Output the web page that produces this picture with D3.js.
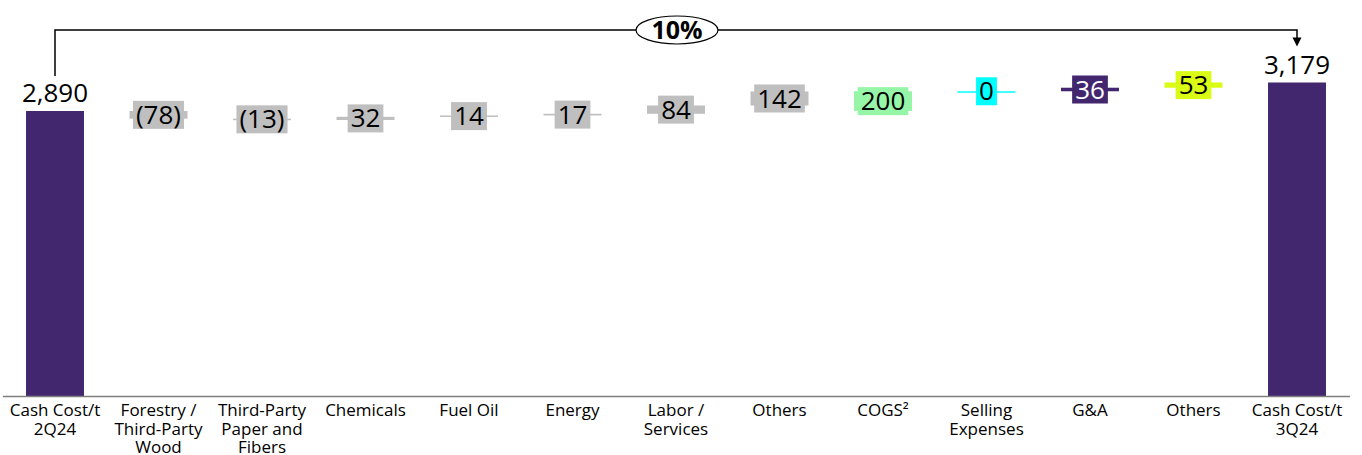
<!DOCTYPE html>
<html>
<head>
<meta charset="utf-8">
<script src="https://cdn.jsdelivr.net/npm/d3@7"></script>
<style>
  html, body { margin: 0; padding: 0; background: #ffffff; }
  svg { display: block; font-family: "Open Sans", "Noto Sans", sans-serif; }
</style>
</head>
<body>
<svg id="chart" width="1362" height="455"></svg>
<script>
// Cash cost per tonne bridge, 2Q24 -> 3Q24 (R$/t)
const categories = [
  "Cash Cost/t\n2Q24",
  "Forestry /\nThird-Party\nWood",
  "Third-Party\nPaper and\nFibers",
  "Chemicals",
  "Fuel Oil",
  "Energy",
  "Labor /\nServices",
  "Others",
  "COGS²",
  "Selling\nExpenses",
  "G&A",
  "Others",
  "Cash Cost/t\n3Q24"
];
// total bars at both ends, deltas in between
const values = [2890, -78, -13, 32, 14, 17, 84, 142, 200, 0, 36, 53, 3179];
const kinds  = ["total", "delta", "delta", "delta", "delta", "delta", "delta", "delta", "group", "delta", "delta", "delta", "total"];
const fills  = ["#42276f", "#bfbfbf", "#bfbfbf", "#bfbfbf", "#bfbfbf", "#bfbfbf", "#bfbfbf", "#bfbfbf", "#97f5a7", "#00ffff", "#42276f", "#dafb16", "#42276f"];
const textFills = ["#000", "#000", "#000", "#000", "#000", "#000", "#000", "#000", "#000", "#000", "#ffffff", "#000", "#000"];
const changeLabel = "10%";

// running start/end of every bar: the cost items run from the opening total,
// the COGS bar summarises them, and the items after it continue from its end
const segments = [];
let run = 0;
let opening = 0;
values.forEach((v, i) => {
  let y0, y1;
  if (kinds[i] === "total") {
    y0 = 0; y1 = v; run = v; opening = v;
  } else if (kinds[i] === "group") {
    y0 = opening; y1 = opening + v; run = y1;
  } else {
    y0 = run; y1 = run + v; run = y1;
  }
  segments.push({ cat: i, value: v, kind: kinds[i], y0, y1 });
});

const svg = d3.select("#chart");
const baseY = 396;

const x = d3.scaleBand()
  .domain(d3.range(categories.length))
  .range([3.25, 1348.75])
  .paddingInner(0.44)
  .paddingOuter(0.22);

const y = d3.scaleLinear()
  .domain([0, 2890])
  .range([baseY, 111]);

const fmt = v => {
  if (v < 0) return "(" + d3.format(",")(-v) + ")";
  return d3.format(",")(v);
};

// bars
svg.append("g").selectAll("rect")
  .data(segments)
  .join("rect")
  .attr("x", d => x(d.cat))
  .attr("width", x.bandwidth())
  .attr("y", d => y(Math.max(d.y0, d.y1)))
  .attr("height", d => Math.max(1.5, Math.abs(y(d.y0) - y(d.y1))))
  .attr("fill", d => fills[d.cat]);

// baseline
svg.append("line")
  .attr("x1", 3).attr("x2", 1350)
  .attr("y1", baseY + 0.5).attr("y2", baseY + 0.5)
  .attr("stroke", "#7f7f7f").attr("stroke-width", 1.5);

// category labels
const xl = svg.append("g").attr("font-size", 17).attr("fill", "#000").attr("text-anchor", "middle");
categories.forEach((c, i) => {
  const cx = x(i) + x.bandwidth() / 2;
  const t = xl.append("text")
    .attr("x", cx)
    .attr("y", 416);
  c.split("\n").forEach((line, k) => {
    t.append("tspan")
      .attr("x", cx)
      .attr("dy", k === 0 ? 0 : 18.5)
      .text(line);
  });
});

// value labels
const vl = svg.append("g");
segments.forEach(s => {
  const cx = x(s.cat) + x.bandwidth() / 2;
  if (s.kind === "total") {
    vl.append("text")
      .attr("x", cx)
      .attr("y", y(s.y1) - 9)
      .attr("text-anchor", "middle")
      .attr("font-size", 26)
      .attr("fill", "#000")
      .text(fmt(s.value));
    return;
  }
  const cy = (y(s.y0) + y(s.y1)) / 2;
  const g = vl.append("g");
  const t = g.append("text")
    .attr("x", cx)
    .attr("y", cy)
    .attr("dy", "0.35em")
    .attr("text-anchor", "middle")
    .attr("font-size", 26)
    .attr("fill", textFills[s.cat])
    .text(fmt(s.value));
  const bb = t.node().getBBox();
  g.insert("rect", "text")
    .attr("x", cx - bb.width / 2 - 3)
    .attr("width", bb.width + 6)
    .attr("y", cy - 14)
    .attr("height", 28)
    .attr("fill", fills[s.cat]);
});

// overall change bracket from the opening to the closing total
const xa = x(0) + x.bandwidth() / 2;
const xb = x(categories.length - 1) + x.bandwidth() / 2;
const yTop = 30;
const bracket = svg.append("g");
bracket.append("path")
  .attr("d", `M${xa},${y(values[0]) - 35}V${yTop}H${xb}V${y(values[values.length - 1]) - 44}`)
  .attr("fill", "none")
  .attr("stroke", "#000")
  .attr("stroke-width", 1.5);
const tipY = y(values[values.length - 1]) - 36;
bracket.append("path")
  .attr("d", `M${xb - 4.5},${tipY - 9}L${xb + 4.5},${tipY - 9}L${xb},${tipY}Z`)
  .attr("fill", "#000");
const mid = (xa + xb) / 2 + 1;
bracket.append("ellipse")
  .attr("cx", mid).attr("cy", yTop)
  .attr("rx", 41).attr("ry", 14)
  .attr("fill", "#fff").attr("stroke", "#000").attr("stroke-width", 1.2);
bracket.append("text")
  .attr("x", mid).attr("y", yTop)
  .attr("dy", "0.36em")
  .attr("text-anchor", "middle")
  .attr("font-size", 25)
  .attr("font-weight", "bold")
  .attr("fill", "#000")
  .text(changeLabel);
</script>
</body>
</html>
